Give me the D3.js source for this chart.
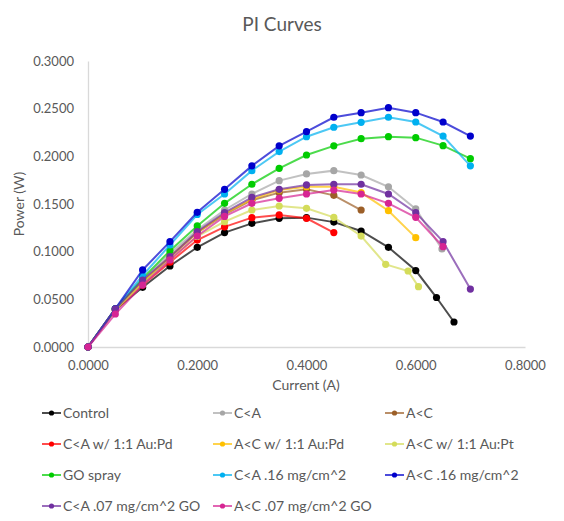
<!DOCTYPE html>
<html><head><meta charset="utf-8">
<script src="https://cdn.jsdelivr.net/npm/d3@7"></script>
<style>body{margin:0;background:#fff;}svg{display:block;font-family:Lato,"Open Sans",sans-serif;}</style>
</head><body><svg id="c" width="564" height="521"></svg>
<script>
const seriesNames = ["Control","C<A","A<C","C<A w/ 1:1 Au:Pd","A<C w/ 1:1 Au:Pd","A<C w/ 1:1 Au:Pt","GO spray","C<A .16 mg/cm^2","A<C .16 mg/cm^2","C<A .07 mg/cm^2 GO","A<C .07 mg/cm^2 GO"];
const seriesColors = ["#000000","#a6a6a6","#9c5f28","#ff0000","#ffc000","#d4dc5a","#00cc00","#00b0f0","#0000cc","#7030a0","#d62593"];
const currentStd = [0,0.05,0.1,0.15,0.2,0.25,0.3,0.35,0.4,0.45,0.5,0.55,0.6,0.65,0.7];
const currentControl = [0,0.05,0.1,0.15,0.2,0.25,0.3,0.35,0.4,0.45,0.5,0.55,0.6,0.638,0.67];
const currentCA = [0,0.05,0.1,0.15,0.2,0.25,0.3,0.35,0.4,0.45,0.5,0.55,0.6,0.648];
const currentPt = [0,0.05,0.1,0.15,0.2,0.25,0.3,0.35,0.4,0.45,0.5,0.545,0.586,0.605];
const powerControl = [0,0.039,0.0626,0.085,0.1046,0.12,0.1297,0.135,0.1357,0.131,0.1217,0.1046,0.0802,0.0519,0.0262];
const powerCA = [0,0.04,0.07,0.098,0.123,0.1437,0.1605,0.1745,0.1815,0.185,0.1804,0.168,0.1448,0.1028];
const powerAC = [0,0.04,0.068,0.094,0.12,0.139,0.154,0.1619,0.1654,0.1591,0.1437];
const powerCAPd = [0,0.039,0.065,0.089,0.1122,0.126,0.1357,0.1385,0.135,0.12];
const powerACPd = [0,0.04,0.068,0.095,0.12,0.14,0.155,0.1647,0.168,0.168,0.162,0.143,0.1147];
const powerACPt = [0,0.039,0.066,0.092,0.116,0.1315,0.1437,0.1479,0.1455,0.136,0.1164,0.0867,0.0797,0.0633];
const powerGO = [0,0.04,0.072,0.101,0.127,0.1507,0.1707,0.1874,0.2014,0.211,0.2185,0.2206,0.2196,0.2112,0.1975];
const powerCA16 = [0,0.04,0.075,0.107,0.139,0.1605,0.185,0.205,0.2206,0.2305,0.2357,0.241,0.236,0.2213,0.19];
const powerAC16 = [0,0.04,0.0808,0.1105,0.1413,0.1654,0.19,0.211,0.2259,0.241,0.2458,0.251,0.2458,0.236,0.2213];
const powerCA07 = [0,0.04,0.0703,0.0947,0.121,0.141,0.157,0.1654,0.17,0.1707,0.1707,0.1605,0.1409,0.1105,0.0608];
const powerAC07 = [0,0.0346,0.065,0.0913,0.1164,0.137,0.1507,0.156,0.1605,0.1647,0.1605,0.1507,0.136,0.1052];
const xTicks = [0,0.2,0.4,0.6,0.8];
const yTicks = [0,0.05,0.1,0.15,0.2,0.25,0.3];

const seriesX = [currentControl,currentCA,currentStd,currentStd,currentStd,currentPt,currentStd,currentStd,currentStd,currentStd,currentStd];
const seriesY = [powerControl,powerCA,powerAC,powerCAPd,powerACPd,powerACPt,powerGO,powerCA16,powerAC16,powerCA07,powerAC07];

const svg = d3.select("#c");
const x = d3.scaleLinear().domain([0,0.8]).range([88,525]);
const y = d3.scaleLinear().domain([0,0.3]).range([347,61]);
const txt = "#595959";

svg.append("text").attr("x",282).attr("y",31).attr("text-anchor","middle")
  .attr("font-size",19).attr("fill",txt).text("PI Curves");

const xa = svg.append("g").attr("transform","translate(0,347)")
  .call(d3.axisBottom(x).tickValues(xTicks).tickFormat(d3.format(".4f")).tickSize(0).tickPadding(14));
const ya = svg.append("g").attr("transform","translate(88,0)")
  .call(d3.axisLeft(y).tickValues(yTicks).tickFormat(d3.format(".4f")).tickSize(0).tickPadding(14));
[xa,ya].forEach(a=>{
  a.select(".domain").attr("stroke","#d9d9d9").attr("stroke-width",1.3);
  a.selectAll("text").attr("fill",txt).attr("font-size",13).attr("font-family","Lato,'Open Sans',sans-serif");
});

svg.append("text").attr("x",306).attr("y",390).attr("text-anchor","middle")
  .attr("font-size",14).attr("fill",txt).text("Current (A)");
svg.append("text").attr("transform","translate(24,204) rotate(-90)").attr("text-anchor","middle")
  .attr("font-size",14).attr("fill",txt).text("Power (W)");

const line = d3.line().x(d=>x(d[0])).y(d=>y(d[1]));
seriesNames.forEach((n,i)=>{
  const pts = seriesY[i].map((yv,j)=>[seriesX[i][j],yv]);
  const g = svg.append("g");
  g.append("path").datum(pts).attr("d",line).attr("fill","none")
    .attr("stroke",seriesColors[i]).attr("stroke-width",2).attr("stroke-opacity",0.7);
  g.selectAll("circle").data(pts).join("circle")
    .attr("cx",d=>x(d[0])).attr("cy",d=>y(d[1])).attr("r",3.6).attr("fill",seriesColors[i]);
});

const colX = [42,213,385], rowY = [413,444,475,506];
seriesNames.forEach((n,i)=>{
  const cx = colX[i%3], cy = rowY[Math.floor(i/3)];
  const g = svg.append("g");
  g.append("line").attr("x1",cx).attr("x2",cx+19).attr("y1",cy).attr("y2",cy)
    .attr("stroke",seriesColors[i]).attr("stroke-width",2).attr("stroke-opacity",0.7);
  g.append("circle").attr("cx",cx+9.5).attr("cy",cy).attr("r",2.6).attr("fill",seriesColors[i]);
  g.append("text").attr("x",cx+21).attr("y",cy+5).attr("font-size",14).attr("fill",txt).text(n);
});
</script></body></html>
